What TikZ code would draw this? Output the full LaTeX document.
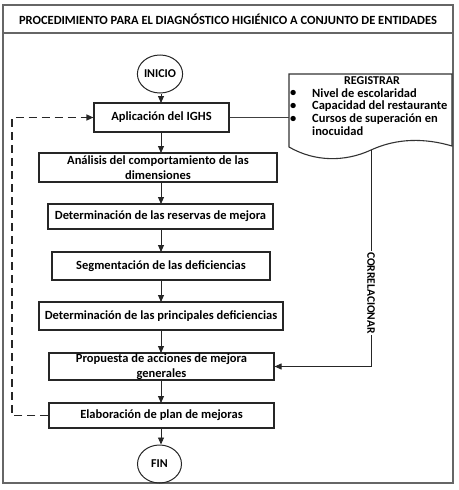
\documentclass[tikz,border=0pt]{standalone}
\usepackage{fontspec}
\setmainfont{Carlito}
\usetikzlibrary{arrows.meta,shapes.geometric}
\begin{document}
\begin{tikzpicture}[x=1pt,y=-1pt,
  frame/.style={draw=black!60, line width=2pt},
  box/.style={draw=black!85, line width=1.1pt, fill=white, align=center, inner sep=0pt,
    font=\bfseries\fontsize{12.5}{14.5}\selectfont},
  oval/.style={draw=black!85, line width=1pt, ellipse, inner sep=0pt, minimum width=44pt, minimum height=38pt,
    font=\bfseries\fontsize{12}{14}\selectfont},
  arr/.style={-{Triangle[length=7pt,width=6pt]}, line width=0.9pt, draw=black!85},
  conn/.style={line width=0.9pt, draw=black!75},
  dashy/.style={line width=1.3pt, draw=black!85, dash pattern=on 8pt off 5pt},
  doctext/.style={anchor=west, inner sep=0pt, font=\bfseries\fontsize{12.5}{14}\selectfont}]
\useasboundingbox (0,0) rectangle (458,490);
% frame
\draw[frame] (3,5) rectangle (453,483);
\draw[frame] (3,33) -- (453,33);
\node[font=\bfseries\fontsize{12.5}{14}\selectfont, inner sep=0pt] (title) at (228,19.5)
  {PROCEDIMIENTO PARA EL DIAGNÓSTICO HIGIÉNICO A CONJUNTO DE ENTIDADES};
% nodes
\node[oval] (ini) at (160,74) {INICIO};
\node[box, minimum width=135pt, minimum height=29pt] (ap) at (161.5,117.5) {Aplicación del IGHS};
\node[box, minimum width=238pt, minimum height=29pt] (an) at (158,167.5) {Análisis del comportamiento de las\\dimensiones};
\node[box, minimum width=225pt, minimum height=25pt] (re) at (160.5,216.5) {Determinación de las reservas de mejora};
\node[box, minimum width=218pt, minimum height=28pt] (se) at (161,266) {Segmentación de las deficiencias};
\node[box, minimum width=244pt, minimum height=28pt] (pd) at (161,316) {Determinación de las principales deficiencias};
\node[box, minimum width=225pt, minimum height=27pt] (pr) at (161.5,366.5) {Propuesta de acciones de mejora\\generales};
\node[box, minimum width=225pt, minimum height=25pt] (el) at (161.5,415.5) {Elaboración de plan de mejoras};
\node[oval] (fin) at (159.5,464) {FIN};
% arrows
\draw[arr] (ini.south -| 161,0) -- (161,103);
\draw[arr] (161,132) -- (161,153);
\draw[arr] (161,182) -- (161,204);
\draw[arr] (161,229) -- (161,252);
\draw[arr] (161,280) -- (161,302);
\draw[arr] (161,330) -- (161,353);
\draw[arr] (161,380) -- (161,403);
\draw[arr] (161,428) -- (fin.north -| 161,0);
% document shape
\draw[line width=1.1pt, draw=black!80, fill=white] (289,74) -- (452,74) -- (452,146)
  .. controls (425,138) and (397,138) .. (371,150)
  .. controls (345,162) and (315,162) .. (289,147) -- cycle;
\coordinate (docl) at (289,117.5);
\coordinate (wv) at (371,150);
\node[inner sep=0pt, font=\bfseries\fontsize{12}{14}\selectfont] (reg) at (372,81) {REGISTRAR};
\node[doctext] (b1) at (290,93) {\textbullet};
\node[doctext] (b2) at (290,106) {\textbullet};
\node[doctext] (b3) at (290,119) {\textbullet};
\node[doctext] (t1) at (312,93) {Nivel de escolaridad};
\node[doctext] (t2) at (312,106) {Capacidad del restaurante};
\node[doctext] (t3) at (312,119) {Cursos de superación en};
\node[doctext] (t4) at (312,131.5) {inocuidad};
% connectors
\draw[conn] (ap.east) -- (docl);
\draw[arr] (wv) |- (pr.east);
\node[rotate=-90, fill=white, inner sep=1.5pt, font=\bfseries\fontsize{11.5}{13}\selectfont] (corr) at (371,293) {CORRELACIONAR};
\coordinate (lp) at (12,415.5);
\draw[dashy, -{Triangle[length=7pt,width=6pt]}] (el.west) -- (lp) |- (ap.west);
\end{tikzpicture}
\end{document}
